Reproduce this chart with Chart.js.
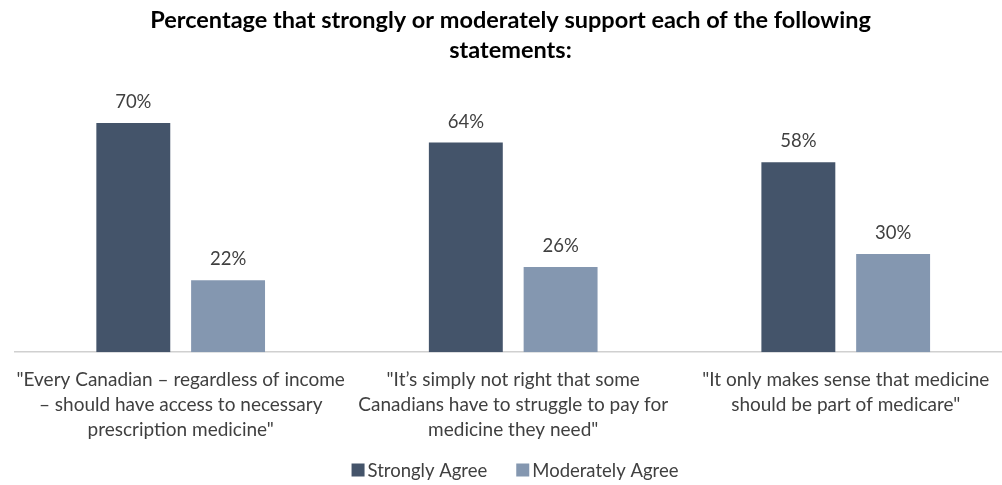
<!DOCTYPE html>
<html>
<head>
<meta charset="utf-8">
<script src="https://cdn.jsdelivr.net/npm/chart.js@4"></script>
<style>
html,body{margin:0;padding:0;background:#fff;overflow:hidden;}
#wrap{position:relative;width:1012px;height:485px;}
</style>
</head>
<body>
<div id="wrap"><canvas id="c"></canvas></div>
<script>
const categories = [
  ['"Every Canadian \u2013 regardless of income', '\u2013 should have access to necessary', 'prescription medicine"'],
  ['"It\u2019s simply not right that some', 'Canadians have to struggle to pay for', 'medicine they need"'],
  ['"It only makes sense that medicine', 'should be part of medicare"']
];
const seriesNames = ['Strongly Agree', 'Moderately Agree'];
const stronglyAgree = [70, 64, 58];
const moderatelyAgree = [22, 26, 30];
const titleLines = ['Percentage that strongly or moderately support each of the following', 'statements:'];

const FONT = 'Lato, "Open Sans", sans-serif';

const valueLabels = {
  id: 'valueLabels',
  afterDatasetsDraw(chart) {
    const ctx = chart.ctx;
    ctx.save();
    ctx.font = '18.5px ' + FONT;
    ctx.fillStyle = '#404040';
    ctx.textAlign = 'center';
    ctx.textBaseline = 'middle';
    chart.data.datasets.forEach((ds, i) => {
      const meta = chart.getDatasetMeta(i);
      meta.data.forEach((bar, j) => {
        ctx.fillText(ds.data[j] + '%', bar.x, bar.y - 21);
      });
    });
    ctx.restore();
  }
};

// Legend drawn from the datasets (label + colour), centred near the bottom.
const bottomLegend = {
  id: 'bottomLegend',
  afterDraw(chart) {
    const ctx = chart.ctx;
    ctx.save();
    ctx.font = '18.5px ' + FONT;
    ctx.textBaseline = 'middle';
    ctx.textAlign = 'left';
    const box = 13, boxGap = 3, itemGap = 29;
    const items = chart.data.datasets.map(ds => ({ text: ds.label, color: ds.backgroundColor, w: ctx.measureText(ds.label).width }));
    let total = 0;
    items.forEach((it, i) => { total += box + boxGap + it.w + (i < items.length - 1 ? itemGap : 0); });
    const cy = 470;
    let x = 515 - total / 2;
    items.forEach(it => {
      ctx.fillStyle = it.color;
      ctx.fillRect(x, cy - box / 2, box, box);
      x += box + boxGap;
      ctx.fillStyle = '#404040';
      ctx.fillText(it.text, x, cy + 1);
      x += it.w + itemGap;
    });
    ctx.restore();
  }
};

new Chart(document.getElementById('c'), {
  type: 'bar',
  data: {
    labels: categories,
    datasets: [
      { label: seriesNames[0], data: stronglyAgree, backgroundColor: '#44546A', barPercentage: 0.78, categoryPercentage: 0.57 },
      { label: seriesNames[1], data: moderatelyAgree, backgroundColor: '#8497B0', barPercentage: 0.78, categoryPercentage: 0.57 }
    ]
  },
  options: {
    responsive: true,
    maintainAspectRatio: false,
    animation: false,
    layout: { padding: { left: 9, right: 0, top: 0, bottom: 27 } },
    plugins: {
      title: {
        display: true,
        text: titleLines,
        color: '#000',
        font: { family: FONT, size: 23.5, weight: 'bold', lineHeight: 1.28 },
        padding: { top: 5, bottom: 25 }
      },
      legend: { display: false },
      tooltip: { enabled: false }
    },
    scales: {
      x: {
        grid: { display: false, drawTicks: false },
        border: { display: true, color: '#D0D0D0', width: 1.5 },
        ticks: {
          color: '#404040',
          font: { family: FONT, size: 19, lineHeight: 1.33 },
          maxRotation: 0, autoSkip: false, padding: 15
        }
      },
      y: {
        display: false,
        min: 0, max: 80
      }
    }
  },
  plugins: [valueLabels, bottomLegend]
});
</script>
</body>
</html>
